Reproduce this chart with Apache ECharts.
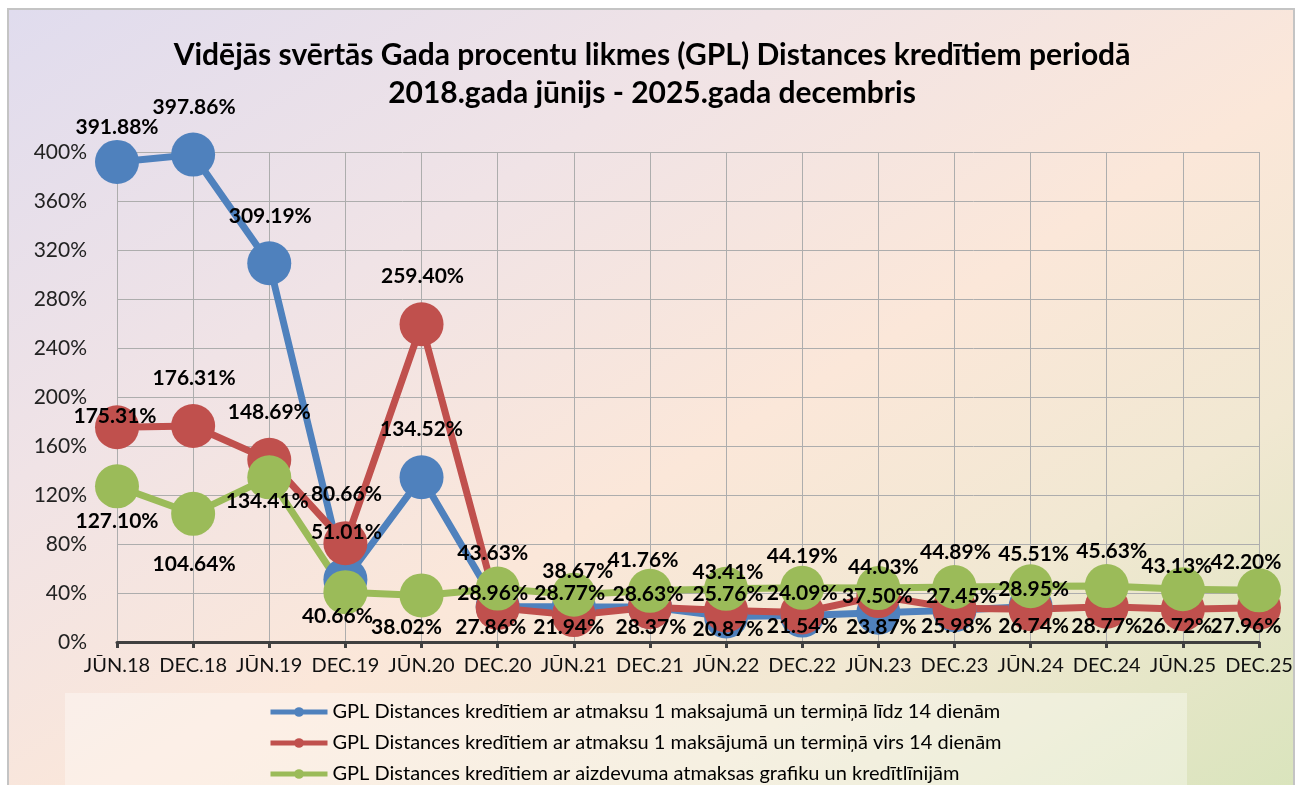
<!DOCTYPE html>
<html>
<head>
<meta charset="utf-8">
<script src="https://cdn.jsdelivr.net/npm/echarts@6/dist/echarts.min.js"></script>
<style>
html, body { margin: 0; padding: 0; background: #fff; }
#frame {
    position: absolute; left: 7px; top: 8px; width: 1284px; height: 790px;
    border: 2px solid #c4c4c4; border-bottom: none; overflow: hidden;
    background: linear-gradient(to bottom right, #e0dcee 0%, #f0e3e6 30%, #fbe7d9 55%, #f1e8d2 75%, #d9e4bc 100%);
}
#main { position: absolute; left: -9px; top: -10px; width: 1304px; height: 785px; }
</style>
</head>
<body>
<div id="frame"><div id="main"></div></div>
<script>
// datu kopas
var periods = ['JŪN.18', 'DEC.18', 'JŪN.19', 'DEC.19', 'JŪN.20', 'DEC.20', 'JŪN.21', 'DEC.21',
    'JŪN.22', 'DEC.22', 'JŪN.23', 'DEC.23', 'JŪN.24', 'DEC.24', 'JŪN.25', 'DEC.25'];

var names = [
    'GPL Distances kredītiem ar atmaksu 1 maksajumā un termiņā līdz 14 dienām',
    'GPL Distances kredītiem ar atmaksu 1 maksājumā un termiņā virs 14 dienām',
    'GPL Distances kredītiem ar aizdevuma atmaksas grafiku un kredītlīnijām'
];

var upTo14 = [391.88, 397.86, 309.19, 51.01, 134.52, 28.96, 28.77, 28.63, 20.87, 21.54, 23.87, 25.98, 28.95, null, null, null];
var over14 = [175.31, 176.31, 148.69, 80.66, 259.40, 27.86, 21.94, 28.37, 25.76, 24.09, 37.50, 27.45, 26.74, 28.77, 26.72, 27.96];
var schedule = [127.10, 104.64, 134.41, 40.66, 38.02, 43.63, 38.67, 41.76, 43.41, 44.19, 44.03, 44.89, 45.51, 45.63, 43.13, 42.20];

var yTicks = [0, 40, 80, 120, 160, 200, 240, 280, 320, 360, 400];

// etiķešu novietojums (px no punkta centra)
var blueDx = [0, 1, 1, 1, 0, -5, -4, -2, 2, 0, 3, 2, 3];
var blueDy = [-35, -47, -47, -47, -48, -13, -14, -13, 13, 11, 14, 16, -17];
var redDx = [-2, 1, 0, 1, 1, -7, -5, 1, 2, 0, -1, 7, 3, 0, -6, -13];
var redDy = [-11, -48, -48, -49, -48, 19, 12, 20, -16, -19, 0, -12, 17, 19, 17, 18];
var greenDx = [0, 1, -2, -8, -15, -5, 4, -7, 2, 0, 5, 1, 3, 5, -6, -13];
var greenDy = [35, 50, 24, 24, 32, -35, -23, -31, -17, -32, -21, -35, -32, -35, -23, -28];

function withLabels(vals, dx, dy) {
    return vals.map(function (v, i) {
        if (v == null) return null;
        return { value: v, label: { offset: [dx[i] || 0, dy[i] || 0] } };
    });
}

function makeSeries(name, vals, color, dx, dy) {
    return {
        name: name,
        type: 'line',
        symbol: 'circle',
        symbolSize: 44,
        showAllSymbol: true,
        connectNulls: false,
        lineStyle: { width: 7, color: color },
        itemStyle: { color: color, borderWidth: 0 },
        label: {
            show: true,
            position: 'inside',
            fontFamily: 'Lato',
            fontWeight: 'bold',
            fontSize: 21,
            color: '#000',
            formatter: function (p) { return p.value.toFixed(2) + '%'; }
        },
        emphasis: { disabled: true },
        data: withLabels(vals, dx, dy)
    };
}

var myChart = echarts.init(document.getElementById('main'));
var option = {
    backgroundColor: 'transparent',
    animation: false,
    textStyle: { fontFamily: 'Lato' },
    title: {
        text: 'Vidējās svērtās Gada procentu likmes (GPL) Distances kredītiem periodā\n2018.gada jūnijs - 2025.gada decembris',
        left: 'center',
        top: 31,
        textStyle: {
            fontFamily: 'Lato',
            fontWeight: 'bold',
            fontSize: 30,
            lineHeight: 38,
            color: '#000'
        }
    },
    graphic: [{
        type: 'rect',
        z: 0,
        shape: { x: 65, y: 693, width: 1122, height: 100 },
        style: { fill: 'rgba(255,255,255,0.35)' }
    }],
    legend: {
        orient: 'vertical',
        left: 263,
        top: 697,
        height: 200,
        itemWidth: 57,
        itemHeight: 12,
        itemGap: 11,
        lineStyle: { width: 5 },
        textStyle: { fontFamily: 'Lato', fontSize: 20, color: '#000' },
        data: names
    },
    grid: { left: 117, right: 45, top: 152, bottom: 143 },
    xAxis: {
        type: 'category',
        boundaryGap: false,
        data: periods,
        axisLine: { lineStyle: { color: '#404040', width: 3 } },
        axisTick: { show: true, length: 6, interval: 0, lineStyle: { color: '#404040', width: 3 } },
        axisLabel: { fontFamily: 'Lato', fontSize: 20, color: '#111', margin: 14, interval: 0 },
        splitLine: { show: true, interval: 0, lineStyle: { color: '#adadad', width: 1 } }
    },
    yAxis: {
        type: 'value',
        min: yTicks[0],
        max: yTicks[yTicks.length - 1],
        interval: 40,
        axisLine: { show: false },
        axisTick: { show: false },
        axisLabel: {
            fontFamily: 'Lato', fontSize: 21, color: '#222', margin: 30,
            formatter: function (v) { return v + '%'; }
        },
        splitLine: { show: true, lineStyle: { color: '#adadad', width: 1 } }
    },
    series: [
        makeSeries(names[0], upTo14, '#4f81bd', blueDx, blueDy),
        makeSeries(names[1], over14, '#c0504d', redDx, redDy),
        makeSeries(names[2], schedule, '#9bbb59', greenDx, greenDy)
    ]
};
myChart.setOption(option);
</script>
</body>
</html>
